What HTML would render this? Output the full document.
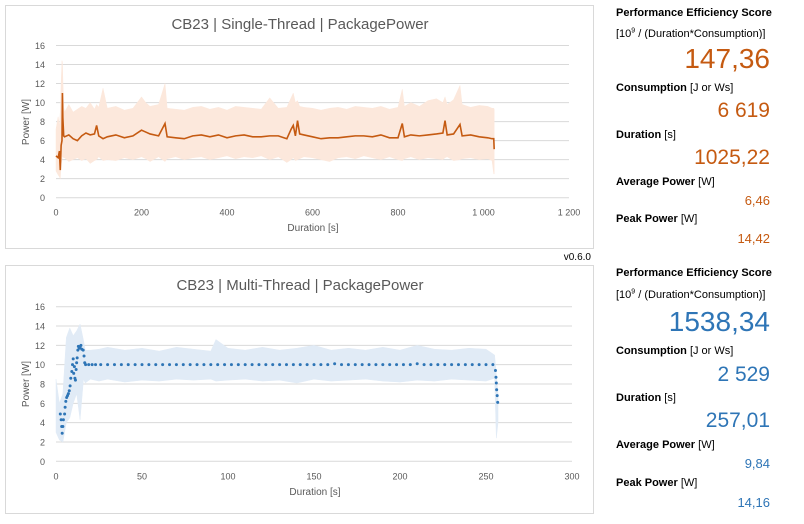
<!DOCTYPE html>
<html><head><meta charset="utf-8">
<style>
body{margin:0;width:804px;height:524px;background:#fff;font-family:"Liberation Sans",sans-serif;position:relative;overflow:hidden}
.box{position:absolute;border:1px solid #d9d9d9;background:#fff}
.stat{position:absolute;left:616px;width:154px;color:#000;font-size:11px;font-weight:bold;white-space:nowrap}
.stat span{font-weight:normal}
.val{position:absolute;right:34px;text-align:right;white-space:nowrap}
.o{color:#c55a11}.b{color:#2e75b6}
</style></head><body>
<div class="box" style="left:5px;top:5px;width:587px;height:242px"></div>
<div class="box" style="left:5px;top:265px;width:587px;height:247px"></div>
<svg id="svg" width="804" height="524" style="position:absolute;left:0;top:0">
<text x="300" y="29" text-anchor="middle" font-size="15" fill="#595959">CB23 | Single-Thread | PackagePower</text>
<text x="300" y="290" text-anchor="middle" font-size="15" fill="#595959">CB23 | Multi-Thread | PackagePower</text>
<text x="313" y="231" text-anchor="middle" font-size="10" fill="#595959">Duration [s]</text>
<text x="315" y="495" text-anchor="middle" font-size="10" fill="#595959">Duration [s]</text>
<text transform="translate(29,122) rotate(-90)" text-anchor="middle" font-size="10" fill="#595959">Power [W]</text>
<text transform="translate(29,384) rotate(-90)" text-anchor="middle" font-size="10" fill="#595959">Power [W]</text>
<text x="591" y="260" text-anchor="end" font-size="10" fill="#000">v0.6.0</text>
</svg>

<div class="stat" style="top:7px">Performance Efficiency Score</div>
<div class="stat" style="top:27px;height:12px;overflow:hidden"><span>[10<sup style="font-size:7px">9</sup> / (Duration*Consumption)]</span></div>
<div class="val o" style="top:43px;font-size:28px">147,36</div>
<div class="stat" style="top:82px">Consumption <span>[J or Ws]</span></div>
<div class="val o" style="top:99px;font-size:21px">6 619</div>
<div class="stat" style="top:129px">Duration <span>[s]</span></div>
<div class="val o" style="top:146px;font-size:21px">1025,22</div>
<div class="stat" style="top:176px">Average Power <span>[W]</span></div>
<div class="val o" style="top:193px;font-size:13px">6,46</div>
<div class="stat" style="top:213px">Peak Power <span>[W]</span></div>
<div class="val o" style="top:231px;font-size:13px">14,42</div>

<div class="stat" style="top:267px">Performance Efficiency Score</div>
<div class="stat" style="top:288px"><span>[10<sup style="font-size:7px">9</sup> / (Duration*Consumption)]</span></div>
<div class="val b" style="top:306px;font-size:28px">1538,34</div>
<div class="stat" style="top:345px">Consumption <span>[J or Ws]</span></div>
<div class="val b" style="top:363px;font-size:21px">2 529</div>
<div class="stat" style="top:392px">Duration <span>[s]</span></div>
<div class="val b" style="top:409px;font-size:21px">257,01</div>
<div class="stat" style="top:439px">Average Power <span>[W]</span></div>
<div class="val b" style="top:456px;font-size:13px">9,84</div>
<div class="stat" style="top:477px">Peak Power <span>[W]</span></div>
<div class="val b" style="top:495px;font-size:13px">14,16</div>

<script>
const yTicks=[0,2,4,6,8,10,12,14,16];
const stXTicks=[0,200,400,600,800,1000,1200];
const stXTickLabels=["0","200","400","600","800","1 000","1 200"];
const mtXTicks=[0,50,100,150,200,250,300];
const stT=[0,5,8,10,12,14,15,16,18,20,30,40,50,60,70,80,90,95,100,110,120,140,160,180,200,210,220,240,255,260,280,300,320,340,360,380,400,420,440,460,480,500,520,540,550,555,560,565,570,580,600,620,640,660,680,700,720,740,760,780,800,810,815,830,850,870,890,905,910,915,930,945,950,970,990,1010,1020,1024,1025];
const stAvg=[4.4,4.2,4.9,2.9,5.5,6.0,11.0,8.4,6.5,6.4,6.6,6.2,6.0,6.5,6.8,6.6,6.7,7.6,6.5,6.2,6.4,6.6,6.3,6.5,7.1,6.9,6.7,6.5,7.8,6.4,6.3,6.2,6.5,6.6,6.4,6.6,6.3,6.5,6.6,6.4,6.4,6.5,6.5,6.2,7.2,7.6,6.5,8.1,6.7,6.6,6.4,6.2,6.3,6.3,6.4,6.5,6.5,6.4,6.6,6.3,6.3,7.8,6.4,6.6,6.5,6.6,6.7,6.8,8.1,6.6,6.7,7.7,6.5,6.6,6.4,6.3,6.2,6.2,5.1];
const stMax=[7.2,8.5,7.5,9.0,12,14.4,14.2,12.5,9.5,9.0,9.8,9.0,9.3,9.6,9.4,10.0,9.3,9.8,9.5,11.5,9.4,9.6,9.2,9.4,10.6,10.0,9.6,9.8,12.0,9.4,9.3,9.2,9.5,9.6,9.3,9.5,9.2,9.6,9.5,9.4,9.3,10.5,9.4,9.5,10.5,11.0,10.0,10.2,9.6,9.5,9.4,9.2,9.4,9.5,9.3,9.6,9.5,9.4,9.6,9.3,9.5,11.4,9.6,10.0,9.6,10.2,10.4,10.0,10.6,9.8,10.3,11.8,9.8,9.5,9.7,9.6,9.4,9.4,9.3];
const stMin=[2.8,2.4,2.2,2.0,3.5,4.0,4.5,4.3,4.2,4.2,3.8,4.0,4.2,3.9,4.1,3.6,3.9,4.0,4.3,3.9,4.0,3.9,4.2,4.0,4.3,4.1,3.8,4.3,3.8,4.1,4.3,4.0,4.2,4.3,4.0,4.2,4.4,4.1,4.3,4.2,4.4,4.0,4.3,3.7,4.0,4.2,3.9,4.0,4.1,4.3,4.2,4.0,3.8,4.2,4.3,4.1,4.4,4.2,4.0,4.3,4.0,3.9,4.1,4.3,4.0,4.2,4.1,4.0,4.2,4.3,3.9,4.0,4.1,4.2,4.0,4.1,3.9,2.5,2.5];

const mtX=[2.5,3,3.3,3.6,4,4.3,5,5.3,5.7,6.2,6.7,7.2,7.7,8.2,8.6,9.2,9.6,10,10.3,10.7,11,11.3,11.7,12,12.3,12.7,13,13.5,14,14.5,15,15.8,16.3,16.7,17.2,19,21,23,26,30,34,38,42,46,50,54,58,62,66,70,74,78,82,86,90,94,98,102,106,110,114,118,122,126,130,134,138,142,146,150,154,158,162,166,170,174,178,182,186,190,194,198,202,206,210,214,218,222,226,230,234,238,242,246,250,254,255.5,255.8,256,256.2,256.5,256.8];
const mtY=[4.9,4.3,3.6,2.9,3.6,4.3,4.9,5.6,6.2,6.6,6.8,7.0,7.3,7.8,8.6,9.3,10.0,10.6,9.1,9.8,8.6,8.4,9.5,10.2,10.7,11.5,11.9,11.7,11.8,12.0,11.6,11.5,10.9,10.2,10.0,10.0,10.0,10.0,10.0,10.0,10.0,10.0,10.0,10.0,10.0,10.0,10.0,10.0,10.0,10.0,10.0,10.0,10.0,10.0,10.0,10.0,10.0,10.0,10.0,10.0,10.0,10.0,10.0,10.0,10.0,10.0,10.0,10.0,10.0,10.0,10.0,10.0,10.1,10.0,10.0,10.0,10.0,10.0,10.0,10.0,10.0,10.0,10.0,10.0,10.1,10.0,10.0,10.0,10.0,10.0,10.0,10.0,10.0,10.0,10.0,10.0,9.4,8.7,8.1,7.4,6.8,6.1];
const mtBandT=[0,2,4,6,8,10,12,14,16,17,20,25,30,40,50,60,70,80,90,93,100,110,120,130,140,150,160,170,180,190,200,210,220,230,240,250,255,256,257];
const mtBandMax=[8.5,6.0,7.0,12.8,13.8,13.0,13.5,14.2,12.5,11.5,11.5,11.6,11.8,11.5,11.7,11.4,11.8,11.6,11.4,12.6,11.7,11.5,11.8,11.5,11.7,12.0,11.5,11.7,11.5,11.8,11.5,12.0,11.6,11.5,11.7,11.6,11.0,9.0,7.0];
const mtBandMin=[3.0,2.2,2.0,4.0,4.5,6.0,7.0,4.3,8.5,8.1,8.5,8.3,8.5,8.2,8.4,8.3,8.5,8.4,8.5,8.3,8.4,8.5,8.3,8.4,8.1,8.5,8.3,8.4,8.5,8.3,8.2,8.4,8.3,8.5,8.4,8.3,8.6,2.4,4.0];

const NS="http://www.w3.org/2000/svg";
const svg=document.getElementById('svg');
function mk(tag,attrs,name){const e=document.createElementNS(NS,tag);for(const k in attrs)e.setAttribute(k,attrs[k]);


svg.appendChild(e);return e;}
function axes(x0,x1,xmax,y0,y16,xt,xl,pre){
 const sx=v=>x0+(x1-x0)*v/xmax, sy=v=>y0+(y16-y0)*v/16;
 yTicks.forEach(t=>{mk('line',{x1:x0,x2:x1,y1:sy(t),y2:sy(t),stroke:'#d9d9d9','stroke-width':1},pre+'-gridline');
  const tx=mk('text',{x:x0-11,y:sy(t)+3.5,'text-anchor':'end','font-size':9,fill:'#595959'},pre+'-y-tick');tx.textContent=t;});
 xt.forEach((t,i)=>{const tx=mk('text',{x:sx(t),y:y0+18,'text-anchor':'middle','font-size':9,fill:'#595959'},pre+'-x-tick');tx.textContent=xl[i];});
 return [sx,sy];
}
function band(sx,sy,T,mx,mn,fill,name){
 let d='M'+T.map((t,i)=>sx(t)+','+sy(mx[i])).join('L');
 for(let i=T.length-1;i>=0;i--)d+='L'+sx(T[i])+','+sy(mn[i]);
 mk('path',{d:d+'Z',fill:fill,stroke:fill,'stroke-width':0.5},name);
}
let [sx,sy]=axes(56,569,1200,197.7,45.5,stXTicks,stXTickLabels,'st');
band(sx,sy,stT,stMax,stMin,'#fce8dc','st-min-max-band');
mk('path',{d:'M'+stT.map((t,i)=>sx(t)+','+sy(stAvg[i])).join('L'),fill:'none',stroke:'#c55a11','stroke-width':1.6},'st-power-line');
[sx,sy]=axes(56,572,300,461.3,306.7,mtXTicks,mtXTicks.map(String),'mt');
band(sx,sy,mtBandT,mtBandMax,mtBandMin,'#e1ebf6','mt-min-max-band');
mtX.forEach((t,i)=>mk('circle',{cx:sx(t),cy:sy(mtY[i]),r:1.5,fill:'#2e75b6'},'mt-power-point'));
</script>
</body></html>
